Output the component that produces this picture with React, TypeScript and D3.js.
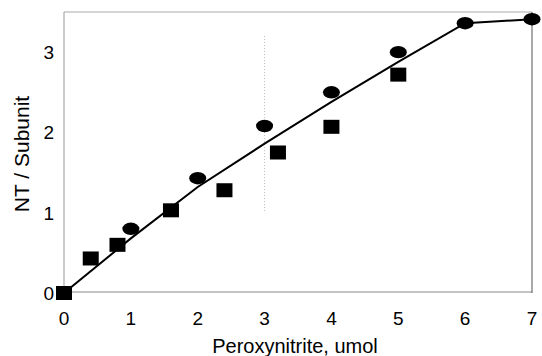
import React from "react";
import * as d3 from "d3";

const xTicks = [0, 1, 2, 3, 4, 5, 6, 7];
const yTicks = [0, 1, 2, 3];
const squareX = [0, 0.4, 0.8, 1.6, 2.4, 3.2, 4.0, 5.0];
const squareY = [0, 0.43, 0.6, 1.03, 1.28, 1.75, 2.07, 2.72];
const circleX = [1, 2, 3, 4, 5, 6, 7];
const circleY = [0.8, 1.43, 2.08, 2.5, 3.0, 3.36, 3.41];
const lineX = [0, 1, 2, 3, 4, 5, 6, 7];
const lineY = [0, 0.68, 1.32, 1.86, 2.38, 2.88, 3.36, 3.41];

const W = 542;
const H = 356;
const left = 64, right = 532, top = 12, bottom = 293;

export default function App() {
  const x = d3.scaleLinear().domain([0, 7]).range([left, right]);
  const y = d3.scaleLinear().domain([0, 3.5]).range([bottom, top]);
  const line = d3
    .line<number>()
    .x((_, i) => x(lineX[i]))
    .y((d) => y(d));
  const font = "Liberation Sans, Arial, sans-serif";
  return (
    <svg
      width={W}
      height={H}
      style={{ position: "absolute", left: 0, top: 0, background: "#fff" }}
    >
      <rect x={0} y={0} width={W} height={H} fill="#fff" />
      {/* frame */}
      <line x1={left} x2={right} y1={top} y2={top} stroke="#aaa" strokeWidth={1} />
      <line x1={left} x2={right} y1={bottom - 1} y2={bottom - 1} stroke="#888" strokeWidth={1} />
      <line x1={left} x2={left} y1={top} y2={bottom} stroke="#999" strokeWidth={1} />
      <line x1={right} x2={right} y1={top} y2={bottom} stroke="#555" strokeWidth={1} />
      <line
        x1={x(3)}
        x2={x(3)}
        y1={y(3.2)}
        y2={y(1.0)}
        stroke="#bbb"
        strokeWidth={1}
        strokeDasharray="1,2"
      />
      {/* fitted line */}
      <path d={line(lineY) || ""} fill="none" stroke="#000" strokeWidth={2} />
      {/* squares */}
      {squareX.map((vx, i) => (
        <rect
          key={"s" + i}
          x={x(vx) - 8}
          y={y(squareY[i]) - 7}
          width={16}
          height={14}
          fill="#000"
        />
      ))}
      {/* circles */}
      {circleX.map((vx, i) => (
        <ellipse
          key={"c" + i}
          cx={x(vx)}
          cy={y(circleY[i])}
          rx={8.5}
          ry={6.2}
          fill="#000"
        />
      ))}
      {/* x ticks */}
      {xTicks.map((t) => (
        <text
          key={"xt" + t}
          x={x(t)}
          y={325}
          textAnchor="middle"
          fontFamily={font}
          fontSize={19}
          fill="#000"
        >
          {t}
        </text>
      ))}
      {yTicks.map((t) => (
        <text
          key={"yt" + t}
          x={54}
          y={y(t) + 7}
          textAnchor="end"
          fontFamily={font}
          fontSize={19}
          fill="#000"
        >
          {t}
        </text>
      ))}
      <text
        x={(left + right) / 2 - 3}
        y={353}
        textAnchor="middle"
        fontFamily={font}
        fontSize={20}
        fill="#000"
      >
        Peroxynitrite, umol
      </text>
      <text
        transform={`translate(29,${154}) rotate(-90)`}
        textAnchor="middle"
        fontFamily={font}
        fontSize={21}
        fill="#000"
      >
        NT / Subunit
      </text>
    </svg>
  );
}
